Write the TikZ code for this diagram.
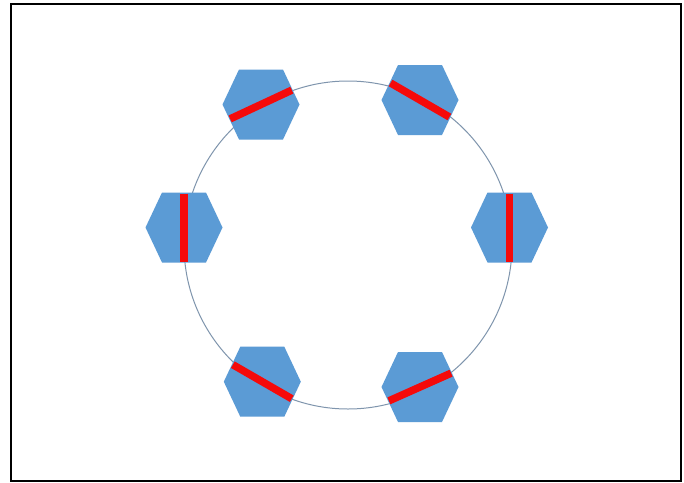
\documentclass[tikz,border=0pt]{standalone}
\definecolor{hexblue}{HTML}{5B9BD5}
\definecolor{barred}{HTML}{F50A0A}
\definecolor{ringcol}{HTML}{7F95AD}
\tikzset{
  hexshape/.style={fill=hexblue},
  barline/.style={draw=barred, line width=7.5pt},
  ring/.style={draw=ringcol, line width=1pt},
  frame/.style={draw=black, line width=2pt}
}
\begin{document}
\begin{tikzpicture}[x=1pt,y=-1pt]
\useasboundingbox (0,0) rectangle (684,482);
\fill[white] (0,0) rectangle (684,482);
\draw[frame] (11,4) rectangle (681,480.5);
\coordinate (c) at (348,245);
\draw[ring] (c) circle[radius=164];
\foreach \n/\x/\y/\a in {l/184/227.5/90, r/509.5/227.5/90, tl/261/104.5/-25, tr/420/100/30, bl/262.3/381.7/30, br/420/387/-24} {
  \coordinate (h\n) at (\x,\y);
  \fill[hexshape, shift={(h\n)}] (-38.5,0) -- (-22,-35) -- (22,-35) -- (38.5,0) -- (22,35) -- (-22,35) -- cycle;
  \draw[barline, shift={(h\n)}] (\a:-34) -- (\a:34);
}
\end{tikzpicture}
\end{document}
